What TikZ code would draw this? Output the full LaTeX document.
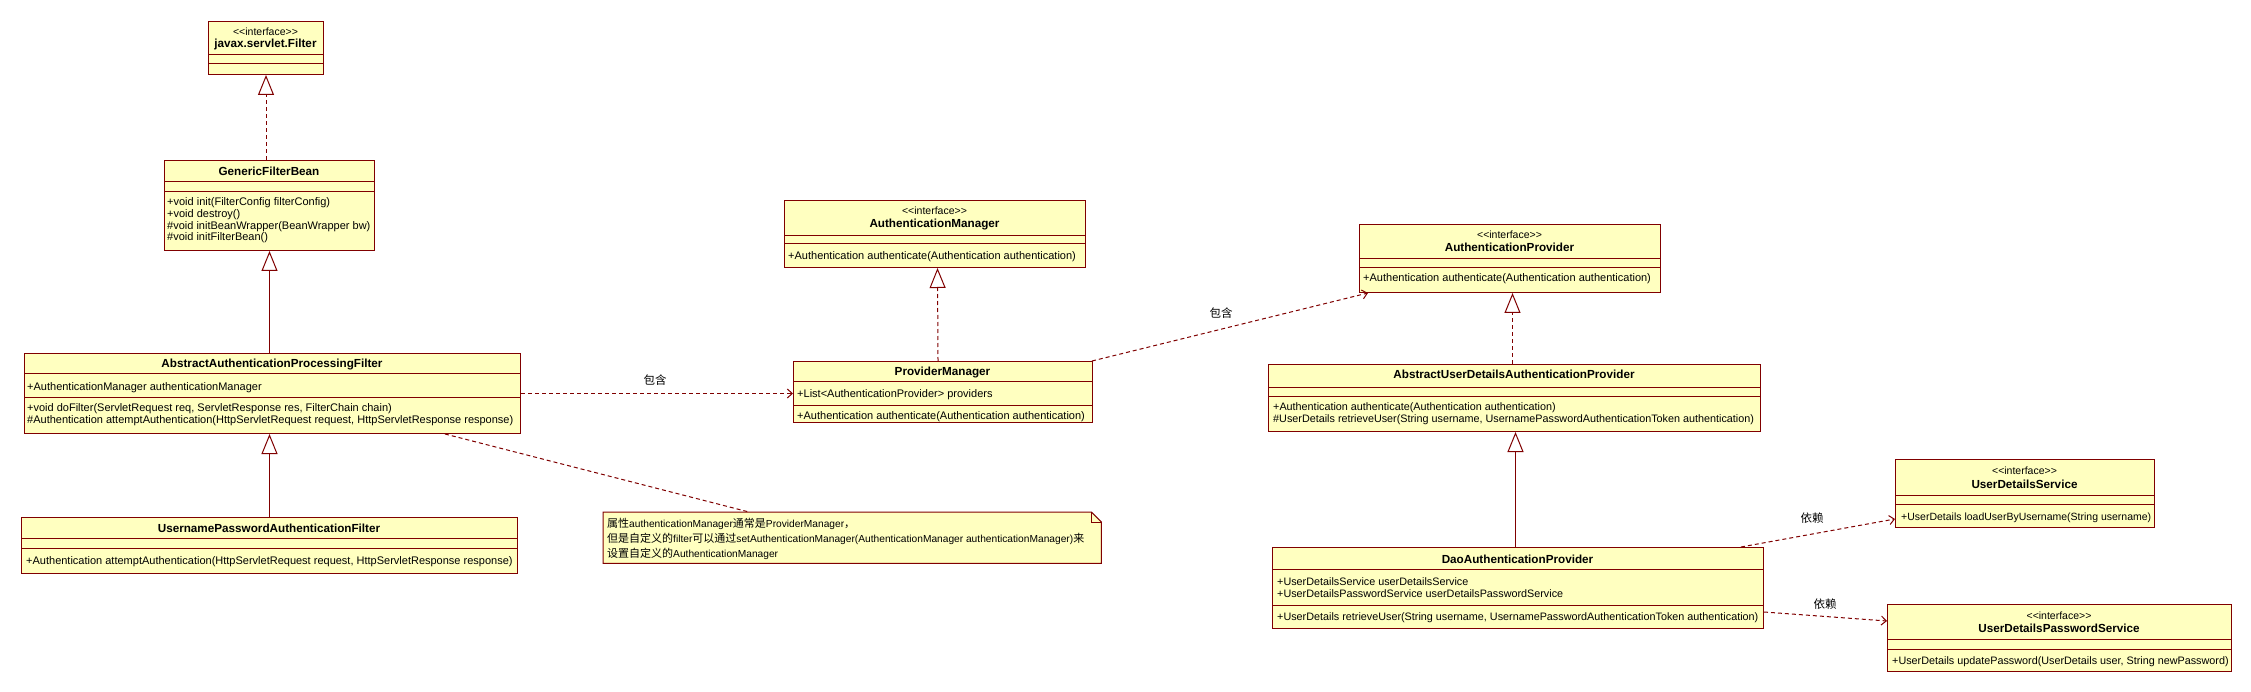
\documentclass[tikz,border=0pt]{standalone}
\usepackage{fontspec}
\setmainfont{Liberation Sans}
\newfontfamily\cjk{Noto Sans CJK SC}
\usetikzlibrary{arrows.meta,calc}
\definecolor{umlborder}{RGB}{128,0,0}
\definecolor{umlfill}{RGB}{255,255,192}
\tikzset{
  cls/.style={draw=umlborder, fill=umlfill, line width=1pt, inner sep=0pt, anchor=north west},
  cline/.style={draw=umlborder, line width=1pt},
  ttl/.style={anchor=base, inner sep=0pt, font=\fontsize{11.7}{12}\selectfont\bfseries},
  ster/.style={anchor=base, inner sep=0pt, font=\fontsize{10.5}{12}\selectfont},
  mem/.style={anchor=base west, inner sep=0pt, align=left, font=\fontsize{11}{11.7}\selectfont},
  memsm/.style={mem, font=\fontsize{#1}{11.7}\selectfont},
  lbl/.style={anchor=center, inner sep=0pt, font=\fontsize{11.5}{12}\selectfont\cjk},
  notetext/.style={anchor=base west, inner sep=0pt, align=left, font=\fontsize{10.2}{15}\selectfont},
  real/.style={draw=umlborder, line width=1pt, dash pattern=on 4pt off 3pt, -{Triangle[open, length=20pt, width=16pt, line width=1pt]}},
  gen/.style={draw=umlborder, line width=1pt, -{Triangle[open, length=20pt, width=16pt, line width=1pt]}},
  dep/.style={draw=umlborder, line width=1pt, dash pattern=on 4pt off 3pt, -{Straight Barb[length=5pt, width=9pt, line width=1pt]}},
  noteline/.style={draw=umlborder, line width=1pt, dash pattern=on 4pt off 3pt},
}
\newcommand\umlcls[5]{\node[cls, minimum width={(#4-#2)*1pt}, minimum height={(#5-#3)*1pt}] (#1) at (#2,#3) {};}
\newcommand\ster{<{}<interface>{}>}
\newcommand\cj[1]{{\fontsize{11}{15}\selectfont\cjk #1}}
\begin{document}
\begin{tikzpicture}[x=1pt,y=-1pt]
\useasboundingbox (0,0) rectangle (2251,692);
\fill[white] (0,0) rectangle (2251,692);

% javax.servlet.Filter
\umlcls{filt}{208}{21}{323}{74}
\draw[cline] (208,55) -- (323,55);
\draw[cline] (208,64) -- (323,64);
\node[ster] (filt-s) at (265.5,36) {\ster};
\node[ttl] (filt-n) at (265.5,48) {javax.servlet.Filter};

% GenericFilterBean
\umlcls{gfb}{164}{160}{374}{250}
\draw[cline] (164,182) -- (374,182);
\draw[cline] (164,192) -- (374,192);
\node[ttl] (gfb-n) at (269,176) {GenericFilterBean};
\node[mem] (gfb-m) at (167,241) {+void init(FilterConfig filterConfig)\\+void destroy()\\\#void initBeanWrapper(BeanWrapper bw)\\\#void initFilterBean()};

% AbstractAuthenticationProcessingFilter
\umlcls{aapf}{24}{353}{520}{433}
\draw[cline] (24,374) -- (520,374);
\draw[cline] (24,397) -- (520,397);
\node[ttl] (aapf-n) at (272,367) {AbstractAuthenticationProcessingFilter};
\node[mem] (aapf-a) at (27,391) {+AuthenticationManager authenticationManager};
\node[mem] (aapf-m) at (27,423.5) {+void doFilter(ServletRequest req, ServletResponse res, FilterChain chain)\\\#Authentication attemptAuthentication(HttpServletRequest request, HttpServletResponse response)};

% UsernamePasswordAuthenticationFilter
\umlcls{upaf}{21}{517}{517}{573}
\draw[cline] (21,538) -- (517,538);
\draw[cline] (21,548) -- (517,548);
\node[ttl] (upaf-n) at (269,532) {UsernamePasswordAuthenticationFilter};
\node[mem] (upaf-m) at (26,564) {+Authentication attemptAuthentication(HttpServletRequest request, HttpServletResponse response)};

% Note
\node[inner sep=0pt, anchor=north west, minimum width=498pt, minimum height=51pt] (note) at (603,512) {};
\draw[draw=umlborder, fill=umlfill, line width=1pt] (note.north west) -- ($(note.north east)+(-10,0)$) -- ($(note.north east)+(0,10)$) -- (note.south east) -- (note.south west) -- cycle;
\draw[draw=umlborder, line width=1pt] ($(note.north east)+(-10,0)$) -- ($(note.north east)+(-10,10)$) -- ($(note.north east)+(0,10)$);
\node[notetext] (note-t) at (607,557) {\cj{属性}authenticationManager\cj{通常是}ProviderManager\cj{，}\\\cj{但是自定义的}filter\cj{可以通过}setAuthenticationManager(AuthenticationManager authenticationManager)\cj{来}\\\cj{设置自定义的}AuthenticationManager};

% AuthenticationManager
\umlcls{am}{784}{200}{1085}{267}
\draw[cline] (784,236) -- (1085,236);
\draw[cline] (784,244) -- (1085,244);
\node[ster] (am-s) at (934.5,215) {\ster};
\node[ttl] (am-n) at (934.5,228) {AuthenticationManager};
\node[mem] (am-m) at (788,260) {+Authentication authenticate(Authentication authentication)};

% ProviderManager
\umlcls{pm}{793}{361}{1092}{422}
\draw[cline] (793,382) -- (1092,382);
\draw[cline] (793,405) -- (1092,405);
\node[ttl] (pm-n) at (942.5,375) {ProviderManager};
\node[mem] (pm-a) at (797,397) {+List<AuthenticationProvider> providers};
\node[mem] (pm-m) at (797,419) {+Authentication authenticate(Authentication authentication)};

% AuthenticationProvider
\umlcls{ap}{1359}{224}{1660}{292}
\draw[cline] (1359,259) -- (1660,259);
\draw[cline] (1359,268) -- (1660,268);
\node[ster] (ap-s) at (1509.5,239) {\ster};
\node[ttl] (ap-n) at (1509.5,252) {AuthenticationProvider};
\node[mem] (ap-m) at (1363,282) {+Authentication authenticate(Authentication authentication)};

% AbstractUserDetailsAuthenticationProvider
\umlcls{audap}{1268}{364}{1760}{431}
\draw[cline] (1268,387) -- (1760,387);
\draw[cline] (1268,396) -- (1760,396);
\node[ttl] (audap-n) at (1514,379) {AbstractUserDetailsAuthenticationProvider};
\node[memsm=10.8] (audap-m) at (1273,422.5) {+Authentication authenticate(Authentication authentication)\\\#UserDetails retrieveUser(String username, UsernamePasswordAuthenticationToken authentication)};

% DaoAuthenticationProvider
\umlcls{dao}{1272}{547}{1763}{628}
\draw[cline] (1272,569) -- (1763,569);
\draw[cline] (1272,605) -- (1763,605);
\node[ttl] (dao-n) at (1517.5,563) {DaoAuthenticationProvider};
\node[memsm=10.8] (dao-a) at (1277,597.5) {+UserDetailsService userDetailsService\\+UserDetailsPasswordService userDetailsPasswordService};
\node[memsm=10.8] (dao-m) at (1277,620) {+UserDetails retrieveUser(String username, UsernamePasswordAuthenticationToken authentication)};

% UserDetailsService
\umlcls{uds}{1895}{459}{2154}{527}
\draw[cline] (1895,495) -- (2154,495);
\draw[cline] (1895,504) -- (2154,504);
\node[ster] (uds-s) at (2024.5,474) {\ster};
\node[ttl] (uds-n) at (2024.5,488) {UserDetailsService};
\node[memsm=10.5] (uds-m) at (1901,520) {+UserDetails loadUserByUsername(String username)};

% UserDetailsPasswordService
\umlcls{udps}{1887}{604}{2231}{671}
\draw[cline] (1887,639) -- (2231,639);
\draw[cline] (1887,649) -- (2231,649);
\node[ster] (udps-s) at (2059,619) {\ster};
\node[ttl] (udps-n) at (2059,632) {UserDetailsPasswordService};
\node[memsm=10.8] (udps-m) at (1892,664) {+UserDetails updatePassword(UserDetails user, String newPassword)};

% Connectors
\draw[real] (gfb.north -| filt.south) -- (filt.south);
\draw[gen] (aapf.north -| gfb.south) -- (gfb.south);
\draw[gen] (upaf.north -| gfb.south) -- (aapf.south -| gfb.south);
\draw[dep] (aapf.east) -- (aapf.east -| pm.west);
\draw[noteline] ($(aapf.south west)+(421,0)$) -- ($(note.north west)+(146,0)$);
\draw[real] ($(pm.north)+(-5,0)$) -- ($(am.south)+(2.5,0)$);
\draw[dep] ($(pm.north east)+(-1,0)$) -- ($(ap.south west)+(9,0)$);
\draw[real] ($(audap.north)+(-2,0)$) -- ($(ap.south)+(2.5,0)$);
\draw[gen] ($(dao.north)+(-2.5,0)$) -- ($(audap.south)+(1,0)$);
\draw[dep] ($(dao.north east)+(-23,0)$) -- ($(uds.south west)+(0,-9)$);
\draw[dep] ($(dao.east)+(0,24)$) -- ($(udps.west)+(0,-17)$);

% Labels
\node[lbl] (l1) at (655,380) {包含};
\node[lbl] (l2) at (1221,313) {包含};
\node[lbl] (l3) at (1812,518) {依赖};
\node[lbl] (l4) at (1825,604) {依赖};
\end{tikzpicture}
\end{document}
